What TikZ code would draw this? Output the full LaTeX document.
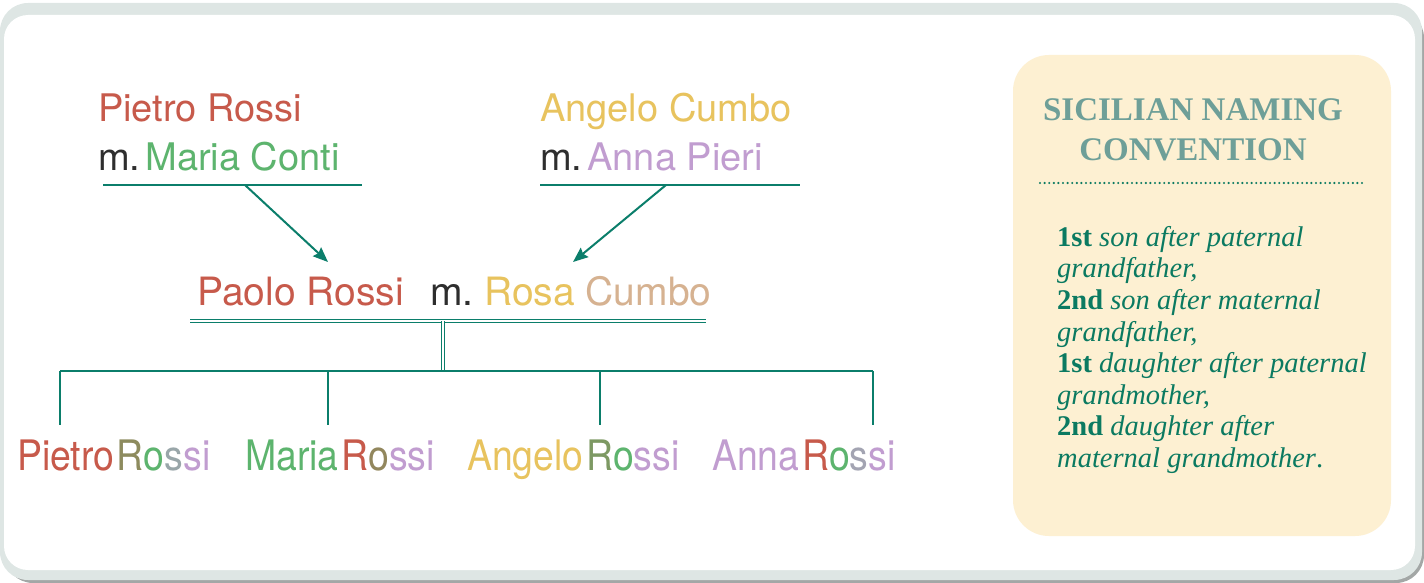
\documentclass[tikz,border=0pt]{standalone}
\usepackage{fontspec}
\setmainfont{Liberation Serif}
\newfontfamily\namefnt{TeX Gyre Heros}
\usetikzlibrary{arrows.meta}
\definecolor{nred}{HTML}{C75A4B}
\definecolor{ngreen}{HTML}{5DB46E}
\definecolor{nyellow}{HTML}{E8C35E}
\definecolor{nlilac}{HTML}{C19DD0}
\definecolor{ndark}{HTML}{2E2E2E}
\definecolor{lineteal}{HTML}{0B7E6B}
\definecolor{titleteal}{HTML}{6E9F98}
\definecolor{bodyteal}{HTML}{0B7A61}
\definecolor{cream}{HTML}{FDF0D2}
\definecolor{framegrey}{HTML}{DEE6E4}
\definecolor{shadowgrey}{HTML}{A3A7A6}
\tikzset{
  parentname/.style={inner sep=0pt, anchor=base west, font=\namefnt\fontsize{38}{40}\selectfont},
  midname/.style={inner sep=0pt, anchor=base west, font=\namefnt\fontsize{39}{41}\selectfont},
  childname/.style={inner sep=0pt, anchor=base west, xscale=0.89, font=\namefnt\fontsize{42}{44}\selectfont},
  famline/.style={draw=lineteal, line width=2pt},
  dblline/.style={draw=lineteal, line width=1.1pt, double=white, double distance=2.2pt},
  arrowline/.style={draw=lineteal, line width=2pt, -{Stealth[length=15pt,width=12pt,inset=2pt]}},
}
\newcommand\rc[1]{\textcolor{nred}{#1}}
\newcommand\gc[1]{\textcolor{ngreen}{#1}}
\newcommand\yc[1]{\textcolor{nyellow}{#1}}
\newcommand\lc[1]{\textcolor{nlilac}{#1}}
\newcommand\dc[1]{\textcolor{ndark}{#1}}
\begin{document}
\begin{tikzpicture}[x=1pt,y=-1pt]
\useasboundingbox (0,0) rectangle (1424,583);
% frame
\fill[shadowgrey, rounded corners=28pt] (5,10) rectangle (1424,583);
\fill[framegrey, rounded corners=28pt] (0,3) rectangle (1422,580);
\fill[white, rounded corners=24pt] (4,15) rectangle (1415,570);
% side box
\fill[cream, rounded corners=36pt] (1013,55) rectangle (1391,536);
\node[inner sep=0pt, anchor=north, align=center, text=titleteal,
      font=\bfseries\fontsize{33}{40}\selectfont] (title) at (1193,98)
      {SICILIAN NAMING\\CONVENTION};
\coordinate (dotL) at (1040,183);
\coordinate (dotR) at (1362,183);
\draw[bodyteal, line width=2.4pt, line cap=round, dash pattern=on 0pt off 4.6pt] (dotL) -- (dotR);
\node[inner sep=0pt, anchor=north west, align=left, text=bodyteal,
      font=\fontsize{28.5}{31.6}\selectfont] (rules) at (1057,226)
      {\textbf{1st} \textit{son after paternal}\\
       \textit{grandfather,}\\
       \textbf{2nd} \textit{son after maternal}\\
       \textit{grandfather,}\\
       \textbf{1st} \textit{daughter after paternal}\\
       \textit{grandmother,}\\
       \textbf{2nd} \textit{daughter after}\\
       \textit{maternal grandmother}.};
% grandparents
\node[parentname, text=nred] (pietro) at (98,122) {Pietro Rossi};
\node[parentname] (maria) at (98,170) {\dc{m.}\hspace{5pt}\gc{Maria Conti}};
\node[parentname, text=nyellow] (angelo) at (540,122) {Angelo Cumbo};
\node[parentname] (anna) at (540,170) {\dc{m.}\hspace{5pt}\lc{Anna Pieri}};
\coordinate (pL) at (103,185);
\coordinate (pR) at (362,185);
\coordinate (pM) at (245,185);
\coordinate (cL) at (540,185);
\coordinate (cR) at (800,185);
\coordinate (cM) at (666,185);
\draw[famline] (pL) -- (pR);
\draw[famline] (cL) -- (cR);
% parents
\node[midname, text=nred] (paolo) at (197,305) {Paolo Rossi};
\node[midname, text=ndark] (marr) at (430,305) {m.};
\node[midname] (rosa) at (484,305) {\yc{Rosa} \textcolor{nyellow!55!nlilac}{Cumbo}};
\coordinate (pa) at (328,262);
\coordinate (ra) at (573,262);
\draw[arrowline] (pM) -- (pa);
\draw[arrowline] (cM) -- (ra);
\coordinate (mL) at (190,321);
\coordinate (mR) at (706,321);
\coordinate (mM) at (443,321);
\coordinate (bM) at (443,371);
\draw[dblline] (mL) -- (mR);
\draw[dblline] (mM) -- (bM);
% children bar
\coordinate (b1) at (60,371);
\coordinate (b2) at (328,371);
\coordinate (b3) at (600,371);
\coordinate (b4) at (873,371);
\coordinate (e1) at (60,425);
\coordinate (e2) at (328,425);
\coordinate (e3) at (600,425);
\coordinate (e4) at (873,425);
\draw[famline] (b1) -- (b4);
\draw[famline] (b1) -- (e1);
\draw[famline] (b2) -- (e2);
\draw[famline] (b3) -- (e3);
\draw[famline] (b4) -- (e4);
% children
\node[childname] (c1) at (17,470) {\rc{Pietro}\hspace{3pt}\textcolor{nred!45!ngreen}{R}\gc{o}\textcolor{ngreen!40!nlilac}{s}\lc{si}};
\node[childname] (c2) at (245,470) {\gc{Maria}\hspace{3pt}\rc{R}\textcolor{nred!50!ngreen}{o}\lc{ssi}};
\node[childname] (c3) at (467,470) {\yc{Angelo}\hspace{3pt}\textcolor{ngreen!70!nred}{R}\gc{o}\lc{ssi}};
\node[childname] (c4) at (712,470) {\lc{Anna}\hspace{3pt}\rc{R}\gc{o}\textcolor{nlilac!70!ngreen}{s}\lc{si}};
\end{tikzpicture}
\end{document}
